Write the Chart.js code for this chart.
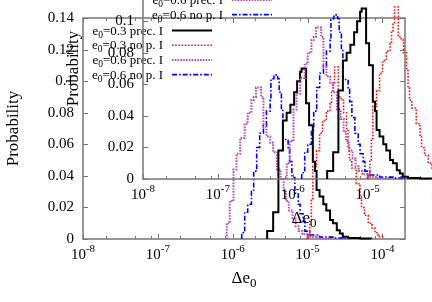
<!DOCTYPE html>
<html><head><meta charset="utf-8">
<script src="https://cdn.jsdelivr.net/npm/chart.js@4/dist/chart.umd.min.js"></script>
<style>
html,body{margin:0;padding:0;background:#fff;}
#wrap{position:relative;width:432px;height:302px;overflow:hidden;background:#fff;}
#wrap canvas{position:absolute;}
#main{left:0;top:0;}
#inset{left:60px;top:-60px;}
</style></head><body>
<div id="wrap"><canvas id="main" width="432" height="302"></canvas><canvas id="inset" width="432" height="302"></canvas></div>
<script>
// ---- axis ticks ----
const xTickValues = [1e-8, 1e-7, 1e-6, 1e-5, 1e-4];
const xTickExponents = ['-8', '-7', '-6', '-5', '-4'];
const xMinorTicks = [2e-8, 5e-8, 8e-8, 2e-7, 5e-7, 8e-7, 2e-6, 5e-6, 8e-6, 2e-5, 5e-5, 8e-5, 2e-4];
const yTickValues = [0, 0.02, 0.04, 0.06, 0.08, 0.1, 0.12, 0.14];
const yTickLabels = ['0', '0.02', '0.04', '0.06', '0.08', '0.1', '0.12', '0.14'];

// ---- series names (e0 = e with subscript 0) ----
const seriesE0 = ['0.3', '0.3', '0.6', '0.6'];
const seriesSuffix = [' prec. I', ' no p. I', ' prec. I', ' no p. I'];

// ---- histograms: bin edges as log10(Δe0), probabilities per bin ----
const blackEdges = [-5.54, -5.46, -5.39, -5.33, -5.28, -5.23, -5.18, -5.14, -5.10, -5.08, -5.02, -4.98, -4.93, -4.90, -4.88, -4.84, -4.79, -4.75, -4.70, -4.66, -4.61, -4.57, -4.53, -4.46, -4.30, -4.15];
const blackProb  = [0.005, 0.017, 0.056, 0.075, 0.080, 0.085, 0.093, 0.100, 0.106, 0.108, 0.086, 0.072, 0.049, 0.043, 0.031, 0.027, 0.022, 0.018, 0.012, 0.010, 0.0056, 0.0035, 0.0014, 0.0006, 0.0003];

const redEdges = [-5.00, -4.97, -4.95, -4.93, -4.88, -4.84, -4.80, -4.75, -4.70, -4.68, -4.66, -4.64, -4.59, -4.55, -4.52, -4.48, -4.46, -4.44, -4.41, -4.35, -4.30, -4.28, -4.24, -4.19, -4.14, -4.10, -4.06, -4.00];
const redProb  = [0.003, 0.012, 0.025, 0.046, 0.056, 0.067, 0.075, 0.081, 0.086, 0.093, 0.098, 0.109, 0.090, 0.088, 0.080, 0.070, 0.058, 0.050, 0.045, 0.035, 0.027, 0.020, 0.015, 0.010, 0.007, 0.004, 0.0015];

const purpleEdges = [-6.08, -6.04, -5.99, -5.95, -5.90, -5.84, -5.80, -5.75, -5.72, -5.69, -5.62, -5.59, -5.55, -5.50, -5.46, -5.41, -5.36, -5.32, -5.29, -5.25, -5.20, -5.16, -5.12, -5.07, -5.00, -4.89, -4.72];
const purpleProb  = [0.010, 0.024, 0.044, 0.054, 0.064, 0.073, 0.080, 0.088, 0.090, 0.096, 0.090, 0.071, 0.065, 0.061, 0.055, 0.044, 0.038, 0.030, 0.024, 0.018, 0.013, 0.008, 0.005, 0.003, 0.0013, 0.0005];

const blueEdges = [-5.88, -5.84, -5.80, -5.75, -5.72, -5.68, -5.64, -5.59, -5.55, -5.50, -5.49, -5.45, -5.40, -5.38, -5.35, -5.33, -5.26, -5.24, -5.21, -5.17, -5.125, -5.10, -5.06, -5.036, -4.97, -4.84, -4.64, -4.50];
const blueProb  = [0.004, 0.017, 0.022, 0.031, 0.043, 0.058, 0.067, 0.072, 0.081, 0.088, 0.1015, 0.104, 0.1015, 0.093, 0.082, 0.063, 0.057, 0.049, 0.039, 0.029, 0.022, 0.016, 0.011, 0.005, 0.0025, 0.0012, 0.0006];

const FONT = '"Liberation Serif", "Times New Roman", serif';
const styles = [
  {color: '#000000', width: 2, dash: []},
  {color: '#ff1010', width: 1.6, dash: [1.6, 1.6]},
  {color: '#b84cb8', width: 2, dash: [1.6, 1.2]},
  {color: '#0000ff', width: 1.6, dash: [5, 2, 1.6, 2]}
];

function histPoints(edges, probs) {
  const pts = [{x: Math.pow(10, edges[0]), y: 0}];
  for (let i = 0; i < probs.length; i++) pts.push({x: Math.pow(10, edges[i]), y: probs[i]});
  pts.push({x: Math.pow(10, edges[edges.length - 1]), y: 0});
  return pts;
}
const seriesData = [
  histPoints(blackEdges, blackProb),
  histPoints(redEdges, redProb),
  histPoints(purpleEdges, purpleProb),
  histPoints(blueEdges, blueProb)
];

function seg(ctx, x1, y1, x2, y2) { ctx.beginPath(); ctx.moveTo(x1, y1); ctx.lineTo(x2, y2); ctx.stroke(); }

const decor = {
  id: 'decor',
  beforeDatasetsDraw(chart) {
    const ctx = chart.ctx, a = chart.chartArea, x = chart.scales.x, y = chart.scales.y;
    ctx.save();
    ctx.strokeStyle = '#777'; ctx.lineWidth = 1.5; ctx.setLineDash([]);
    ctx.strokeRect(a.left, a.top, a.right - a.left, a.bottom - a.top);
    ctx.lineWidth = 1;
    yTickValues.forEach(v => {
      const py = Math.round(y.getPixelForValue(v)) + 0.5;
      seg(ctx, a.left, py, a.left + 5, py);
      seg(ctx, a.right, py, a.right - 5, py);
    });
    xTickValues.forEach(v => {
      const px = Math.round(x.getPixelForValue(v)) + 0.5;
      seg(ctx, px, a.bottom, px, a.bottom - 5);
      seg(ctx, px, a.top, px, a.top + 5);
    });
    xMinorTicks.forEach(v => {
      const px = Math.round(x.getPixelForValue(v)) + 0.5;
      if (px > a.right) return;
      seg(ctx, px, a.bottom, px, a.bottom - 3);
      seg(ctx, px, a.top, px, a.top + 3);
    });
    ctx.restore();
  },
  afterDraw(chart) {
    const ctx = chart.ctx, a = chart.chartArea, x = chart.scales.x, y = chart.scales.y;
    ctx.save();
    ctx.fillStyle = '#000';
    // y tick labels
    ctx.font = '15px ' + FONT; ctx.textAlign = 'right'; ctx.textBaseline = 'middle';
    yTickValues.forEach((v, i) => ctx.fillText(yTickLabels[i], a.left - 9, y.getPixelForValue(v)));
    // x tick labels 10^n
    ctx.textBaseline = 'alphabetic'; ctx.textAlign = 'left';
    xTickValues.forEach((v, i) => {
      const px = x.getPixelForValue(v);
      ctx.font = '15px ' + FONT; const w1 = ctx.measureText('10').width;
      ctx.font = '11px ' + FONT; const w2 = ctx.measureText(xTickExponents[i]).width;
      const x0 = px - (w1 + w2) / 2, base = a.bottom + 20;
      ctx.font = '15px ' + FONT; ctx.fillText('10', x0, base);
      ctx.font = '11px ' + FONT; ctx.fillText(xTickExponents[i], x0 + w1, base - 7);
    });
    // x title Δe0
    {
      ctx.font = '17px ' + FONT; const w1 = ctx.measureText('\u0394e').width;
      ctx.font = '13px ' + FONT; const w2 = ctx.measureText('0').width;
      const cx = (a.left + a.right) / 2, x0 = cx - (w1 + w2) / 2, base = a.bottom + 44;
      ctx.font = '17px ' + FONT; ctx.fillText('\u0394e', x0, base);
      ctx.font = '13px ' + FONT; ctx.fillText('0', x0 + w1, base + 4);
    }
    // y title
    ctx.save();
    ctx.translate(14, (a.top + a.bottom) / 2); ctx.rotate(-Math.PI / 2);
    ctx.font = '17px ' + FONT; ctx.textAlign = 'center'; ctx.textBaseline = 'middle';
    ctx.fillText('Probability', 0, 0);
    ctx.restore();
    // legend
    for (let i = 0; i < 4; i++) {
      const ly = a.top + 12.5 + i * 14.7;
      const rightX = a.left + 80;
      ctx.font = '13px ' + FONT; const wE = ctx.measureText('e').width;
      ctx.font = '9.5px ' + FONT; const w0 = ctx.measureText('0').width;
      ctx.font = '13px ' + FONT; const wR = ctx.measureText('=' + seriesE0[i] + seriesSuffix[i]).width;
      const x0 = rightX - (wE + w0 + wR), base = ly + 4;
      ctx.textAlign = 'left'; ctx.textBaseline = 'alphabetic';
      ctx.font = '13px ' + FONT; ctx.fillText('e', x0, base);
      ctx.font = '9.5px ' + FONT; ctx.fillText('0', x0 + wE, base + 3);
      ctx.font = '13px ' + FONT; ctx.fillText('=' + seriesE0[i] + seriesSuffix[i], x0 + wE + w0, base);
      const s = styles[i];
      ctx.strokeStyle = s.color; ctx.lineWidth = s.width; ctx.setLineDash(s.dash);
      seg(ctx, a.left + 89, ly, a.left + 129, ly);
      ctx.setLineDash([]);
    }
    ctx.restore();
  }
};

function makeChart(id) {
  return new Chart(document.getElementById(id), {
    type: 'line',
    data: {
      datasets: seriesData.map((pts, i) => ({
        data: pts,
        borderColor: styles[i].color,
        borderWidth: styles[i].width,
        borderDash: styles[i].dash,
        stepped: true,
        pointRadius: 0,
        fill: false,
        clip: false
      }))
    },
    options: {
      responsive: false, animation: false, devicePixelRatio: 1,
      layout: {padding: {left: 0, top: 18, right: 27, bottom: 0}},
      plugins: {legend: {display: false}, tooltip: {enabled: false}},
      scales: {
        x: {type: 'logarithmic', min: 1e-8, max: 2e-4,
            ticks: {display: false}, grid: {display: false}, border: {display: false},
            afterFit: s => { s.height = 63; }},
        y: {type: 'linear', min: 0, max: 0.14,
            ticks: {display: false}, grid: {display: false}, border: {display: false},
            afterFit: s => { s.width = 83; }}
      }
    },
    plugins: [decor]
  });
}
makeChart('main');
makeChart('inset');
</script>
</body></html>
